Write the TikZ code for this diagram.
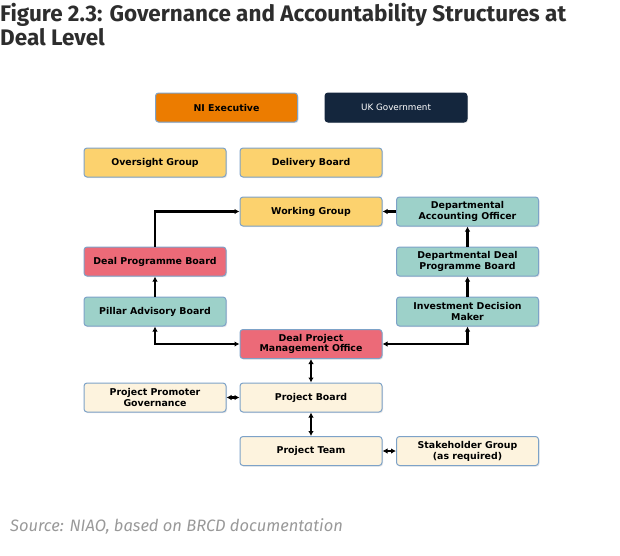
\documentclass[tikz,border=0pt]{standalone}
\usepackage{fontspec}
\setmainfont{Fira Sans}
\newfontfamily\boxfont{DejaVu Sans}
\usetikzlibrary{arrows.meta,shadows}
\definecolor{niorange}{RGB}{236,124,0}
\definecolor{uknavy}{RGB}{20,38,61}
\definecolor{wgyellow}{RGB}{252,210,110}
\definecolor{dteal}{RGB}{157,209,201}
\definecolor{dred}{RGB}{236,106,120}
\definecolor{pcream}{RGB}{253,243,222}
\definecolor{boxline}{RGB}{125,162,200}
\definecolor{titlegrey}{RGB}{45,45,45}
\begin{document}
\begin{tikzpicture}[x=1pt,y=-1pt,
  box/.style={draw=boxline,line width=1pt,rounded corners=3pt,minimum width=142pt,
    minimum height=29pt,inner sep=1pt,align=center,text=black,
    font=\boxfont\bfseries\fontsize{9.4}{10.8}\selectfont,
    drop shadow={opacity=.2,shadow xshift=1pt,shadow yshift=-1.2pt}},
  link/.style={line width=2.4pt,-{Latex[length=5pt,width=5.5pt]}},
  both/.style={line width=2.4pt,{Latex[length=5pt,width=5.5pt]}-{Latex[length=5pt,width=5.5pt]}}]
  \useasboundingbox (0,0) rectangle (620,555);
  \node[anchor=north west,align=left,inner sep=0pt,text=titlegrey,
    font=\bfseries\fontsize{22.5}{24}\selectfont] (title) at (0,3)
    {Figure 2.3: Governance and Accountability Structures at\\Deal Level};
  % top level
  \node[box,fill=niorange] (ni) at (226.5,107.5) {NI Executive};
  \node[box,fill=uknavy,draw=uknavy,text=white,font=\boxfont\fontsize{8.8}{10}\selectfont] (uk) at (396,107.5) {UK Government};
  \node[box,fill=wgyellow] (og) at (155,162.5) {Oversight Group};
  \node[box,fill=wgyellow] (db) at (311,162.5) {Delivery Board};
  \node[box,fill=wgyellow] (wg) at (311,211.5) {Working Group};
  \node[box,fill=dteal] (dao) at (467.5,211.5) {Departmental\\Accounting Officer};
  \node[box,fill=dred] (dpb) at (155,261.5) {Deal Programme Board};
  \node[box,fill=dteal] (ddpb) at (467.5,261.5) {Departmental Deal\\Programme Board};
  \node[box,fill=dteal] (pab) at (155,311.5) {Pillar Advisory Board};
  \node[box,fill=dteal] (idm) at (467.5,311.5) {Investment Decision\\Maker};
  \node[box,fill=dred] (dpmo) at (311,344) {Deal Project\\Management Office};
  % project level
  \node[box,fill=pcream] (ppg) at (155,397.5) {Project Promoter\\Governance};
  \node[box,fill=pcream] (pb) at (311,397.5) {Project Board};
  \node[box,fill=pcream] (pt) at (311,451) {Project Team};
  \node[box,fill=pcream] (sg) at (467.5,451) {Stakeholder Group\\(as required)};
  \draw[link] (dpb.north) |- (wg.west);
  \draw[link] (dao.west) -- (wg.east);
  \draw[link] (ddpb.north) -- (dao.south);
  \draw[link] (pab.north) -- (dpb.south);
  \draw[link] (idm.north) -- (ddpb.south);
  \draw[both] (pab.south) |- (dpmo.west);
  \draw[both] (idm.south) |- (dpmo.east);
  \draw[both] (dpmo.south) -- (pb.north);
  \draw[both] (ppg.east) -- (pb.west);
  \draw[both] (pb.south) -- (pt.north);
  \draw[both] (pt.east) -- (sg.west);
  \node[anchor=base west,inner sep=0pt,text=black!40,
    font=\itshape\fontsize{16.5}{18}\selectfont] (source) at (10,531)
    {Source: NIAO, based on BRCD documentation};
\end{tikzpicture}
\end{document}
